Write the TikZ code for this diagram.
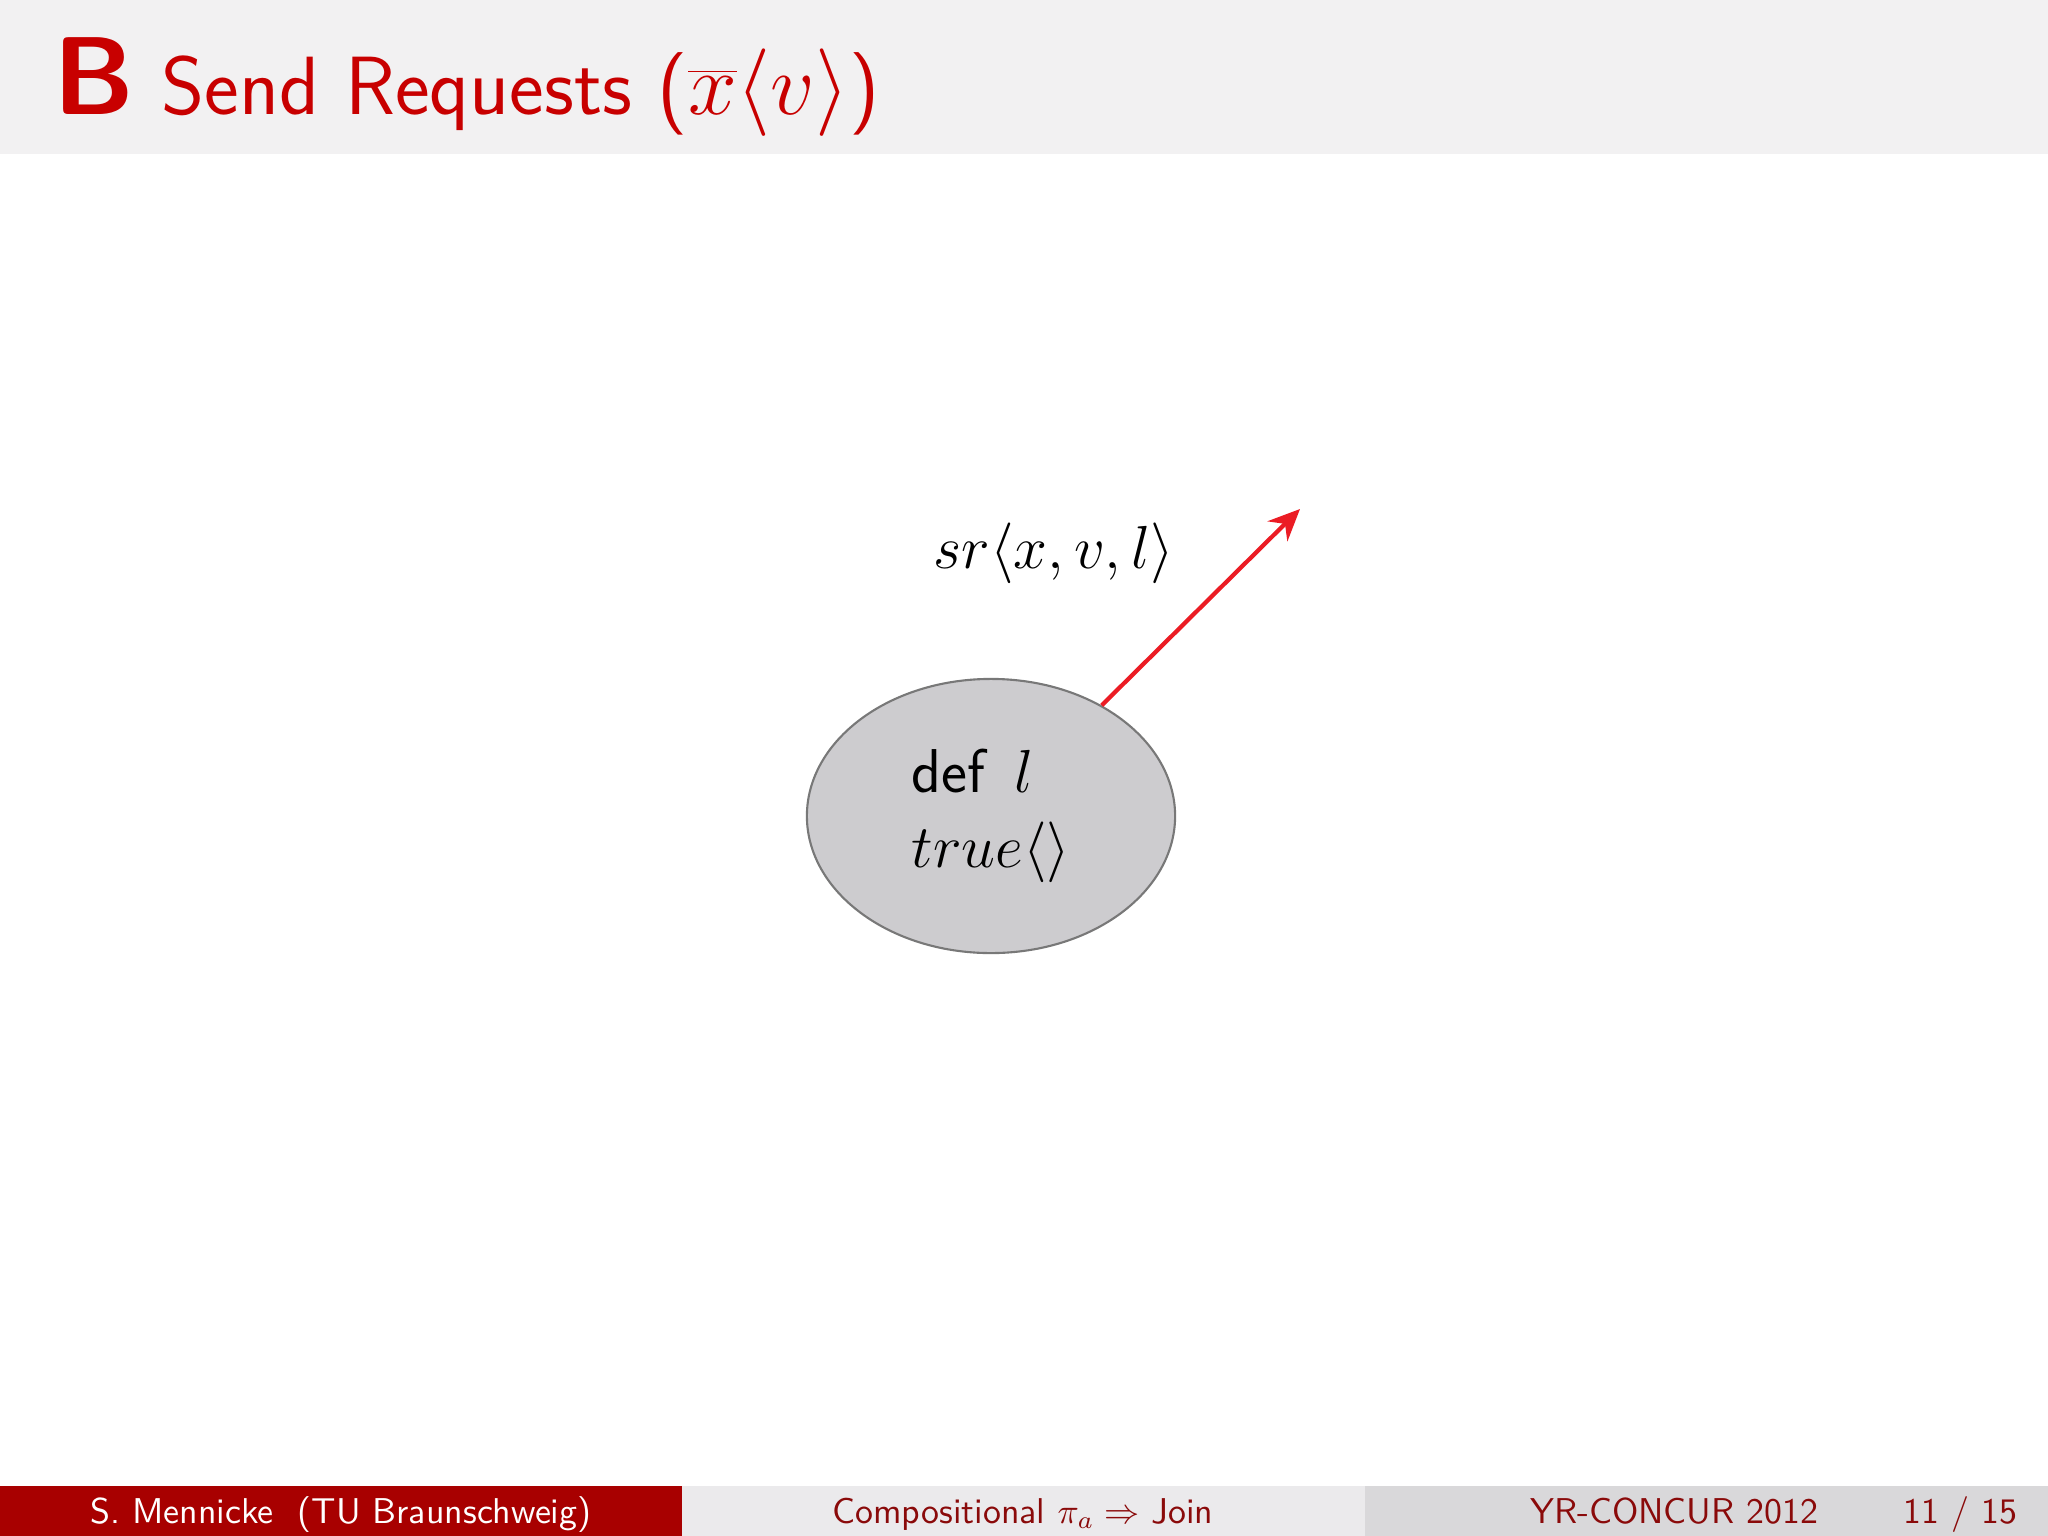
\documentclass[tikz,border=0pt]{standalone}
\usepackage{fontspec}
\usetikzlibrary{shapes.geometric,positioning,arrows.meta}

\definecolor{tured}{HTML}{C80000}
\definecolor{darkred}{HTML}{A80000}
\definecolor{footred}{HTML}{8A0A0A}
\definecolor{bandgray}{HTML}{F2F1F2}
\definecolor{midgray}{HTML}{EBEAEC}
\definecolor{rightgray}{HTML}{D9D8DA}
\definecolor{cellfill}{HTML}{CDCCCF}
\definecolor{cellline}{HTML}{787878}
\definecolor{arrowred}{HTML}{EB1C24}

\tikzset{
  footer/.style={font=\sffamily\fontsize{10.2}{12}\selectfont, inner sep=0pt, anchor=base},
  body/.style={font=\sffamily\fontsize{17.6}{21.5}\selectfont},
  cell/.style={ellipse, draw=cellline, fill=cellfill, line width=0.6pt,
    minimum width=3.68cm, minimum height=2.74cm, inner sep=0pt, align=left, body}
}

\begin{document}
\begin{tikzpicture}[x=0.01cm,y=-0.01cm]
\useasboundingbox (0,0) rectangle (2048,1536);

% title band
\fill[bandgray] (0,0) rectangle (2048,154);
\node[anchor=base west, inner sep=0pt, text=tured, font=\sffamily\bfseries\fontsize{31.5}{36}\selectfont] (letter) at (53,114) {B};
\node[anchor=base west, inner sep=0pt, text=tured, font=\sffamily\fontsize{23.5}{28}\selectfont] (title) at (161,114) {Send Requests ($\overline{x}\langle v\rangle$)};

% location and outgoing request
\node[cell] (cell) at (991,816) {def\, $l$\\ $true\langle\rangle$};
\coordinate (tip) at (1300,509);
\draw[arrowred, line width=1.2pt, -{Stealth[length=9pt,width=8pt,inset=3pt]}] (cell.45) -- (tip);
\node[body, font=\fontsize{18.1}{22}\selectfont] (msg) at (1054,553) {$sr\langle x,v,l\rangle$};

% footline
\fill[darkred] (0,1486) rectangle (682,1536);
\fill[midgray] (682,1486) rectangle (1365,1536);
\fill[rightgray] (1365,1486) rectangle (2048,1536);
\node[footer, text=white] (author) at (341,1523) {S. Mennicke\ \ (TU Braunschweig)};
\node[footer, text=footred] (talk) at (1023,1523) {Compositional $\pi_a \Rightarrow$ Join};
\node[footer, text=footred, anchor=base east] (conf) at (1819,1523) {YR-CONCUR 2012};
\node[footer, text=footred, anchor=base east] (pages) at (2018,1523) {11 / 15};
\end{tikzpicture}
\end{document}
